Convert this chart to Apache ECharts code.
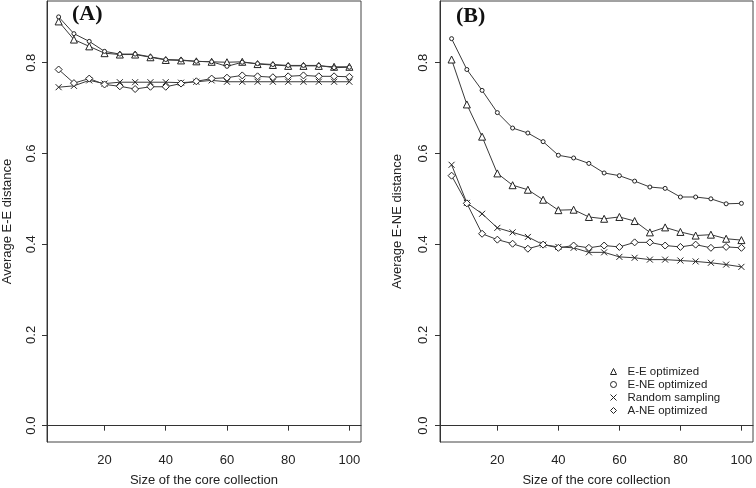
<!DOCTYPE html>
<html>
<head>
<meta charset="utf-8">
<script src="https://cdn.jsdelivr.net/npm/echarts@6/dist/echarts.min.js"></script>
<style>
html,body{margin:0;padding:0;background:#fff;}
#chart{width:756px;height:488px;}
</style>
</head>
<body>
<div id="chart"></div>
<script>
const sizes = [5,10,15,20,25,30,35,40,45,50,55,60,65,70,75,80,85,90,95,100];
const xTicks = [20,40,60,80,100];
const yTicks = [0,0.2,0.4,0.6,0.8];
const seriesNames = ['E-E optimized','E-NE optimized','Random sampling','A-NE optimized'];

// Panel A: Average E-E distance
const eeA   = [0.891,0.851,0.836,0.821,0.818,0.818,0.812,0.806,0.805,0.803,0.802,0.801,0.802,0.797,0.795,0.793,0.793,0.793,0.791,0.791];
const eneA  = [0.901,0.864,0.847,0.825,0.819,0.819,0.813,0.807,0.806,0.803,0.802,0.792,0.801,0.798,0.796,0.794,0.794,0.794,0.789,0.790];
const randA = [0.746,0.749,0.761,0.754,0.757,0.757,0.757,0.757,0.756,0.758,0.761,0.758,0.758,0.758,0.758,0.758,0.758,0.758,0.758,0.758];
const aneA  = [0.785,0.755,0.765,0.752,0.748,0.742,0.747,0.747,0.754,0.759,0.765,0.767,0.772,0.770,0.768,0.770,0.772,0.770,0.770,0.769];

// Panel B: Average E-NE distance
const eeB   = [0.807,0.708,0.637,0.556,0.530,0.520,0.498,0.475,0.476,0.460,0.456,0.460,0.451,0.426,0.437,0.427,0.419,0.421,0.412,0.409];
const eneB  = [0.853,0.785,0.739,0.690,0.656,0.645,0.626,0.596,0.590,0.578,0.557,0.551,0.539,0.526,0.523,0.504,0.504,0.500,0.489,0.490];
const randB = [0.575,0.491,0.467,0.436,0.426,0.416,0.399,0.394,0.392,0.382,0.382,0.372,0.370,0.366,0.366,0.364,0.362,0.359,0.355,0.350];
const aneB  = [0.551,0.490,0.423,0.410,0.401,0.390,0.399,0.392,0.397,0.392,0.397,0.394,0.404,0.404,0.397,0.394,0.399,0.392,0.394,0.392];

const XSYM = 'path://M0,0L10,10M10,0L0,10';
const symbols = ['triangle','circle',XSYM,'diamond'];
const symSizes = [7,4,6,7];
const FONT = 'Liberation Sans, Arial, sans-serif';
const INK = '#222';

function pairs(vals){ return sizes.map((s,i)=>[s, vals[i]]); }

function mkSeries(idx, arrs){
  return arrs.map((vals,k)=>({
    name: seriesNames[k],
    type: 'line',
    xAxisIndex: idx, yAxisIndex: idx,
    data: pairs(vals),
    symbol: symbols[k],
    symbolSize: symSizes[k],
    showSymbol: true,
    lineStyle: {color:'#3a3a3a', width:1},
    itemStyle: {color:'#fff', borderColor:'#222', borderWidth:1},
    emphasis: {disabled:true},
    z: 2
  }));
}

function xAxis(idx){
  return {
    type:'value', gridIndex: idx, min: 1.2, max: 103.8,
    name: 'Size of the core collection', nameLocation:'middle', nameGap: 32,
    nameTextStyle:{fontFamily:FONT, fontSize:13, color:INK},
    axisLine:{show:true, lineStyle:{color:'#333', width:1}},
    axisTick:{show:true, length:5, customValues: xTicks, lineStyle:{color:'#333'}},
    axisLabel:{show:true, customValues: xTicks, margin:12, fontFamily:FONT, fontSize:13, color:INK},
    splitLine:{show:false}
  };
}
function yAxis(idx, name, gap, margin){
  return {
    type:'value', gridIndex: idx, min: -0.036, max: 0.936,
    name: name, nameLocation:'middle', nameGap: gap, nameRotate: 90,
    nameTextStyle:{fontFamily:FONT, fontSize:13, color:INK},
    axisLine:{show:true, lineStyle:{color:'#333', width:1}},
    axisTick:{show:true, length:5, customValues: yTicks, lineStyle:{color:'#333'}},
    axisLabel:{show:true, customValues: yTicks, rotate:90, margin:margin, fontFamily:FONT, fontSize:13, color:INK,
               formatter: v => v.toFixed(1)},
    splitLine:{show:false}
  };
}

const chart = echarts.init(document.getElementById('chart'), null, {renderer:'canvas'});
chart.setOption({
  animation:false,
  backgroundColor:'#fff',
  title:[
    {text:'(A)', left:72, top:3, padding:0, textStyle:{fontFamily:'Liberation Serif, Times New Roman, serif', fontWeight:'bold', fontSize:22, color:'#111'}},
    {text:'(B)', left:456, top:5, padding:0, textStyle:{fontFamily:'Liberation Serif, Times New Roman, serif', fontWeight:'bold', fontSize:22, color:'#111'}}
  ],
  grid:[
    {left:47, top:1, width:314, height:441, show:true, borderColor:'#444', borderWidth:1, backgroundColor:'transparent', containLabel:false, outerBoundsMode:'none'},
    {left:440, top:1, width:313, height:441, show:true, borderColor:'#444', borderWidth:1, backgroundColor:'transparent', containLabel:false, outerBoundsMode:'none'}
  ],
  xAxis:[xAxis(0), xAxis(1)],
  yAxis:[yAxis(0,'Average E-E distance',33,9), yAxis(1,'Average E-NE distance',36,10)],
  legend:{
    orient:'vertical', left:610, top:365, padding:0,
    itemWidth:6, itemHeight:6, itemGap:0,
    textStyle:{fontFamily:FONT, fontSize:11.5, color:INK, lineHeight:13, padding:[0,0,0,6]},
    selectedMode:false,
    data: seriesNames.map((n,k)=>({name:n, icon:symbols[k], itemStyle:{color:'#fff', borderColor:'#222', borderWidth:1}}))
  },
  series: mkSeries(0,[eeA,eneA,randA,aneA]).concat(mkSeries(1,[eeB,eneB,randB,aneB]))
});
</script>
</body>
</html>
